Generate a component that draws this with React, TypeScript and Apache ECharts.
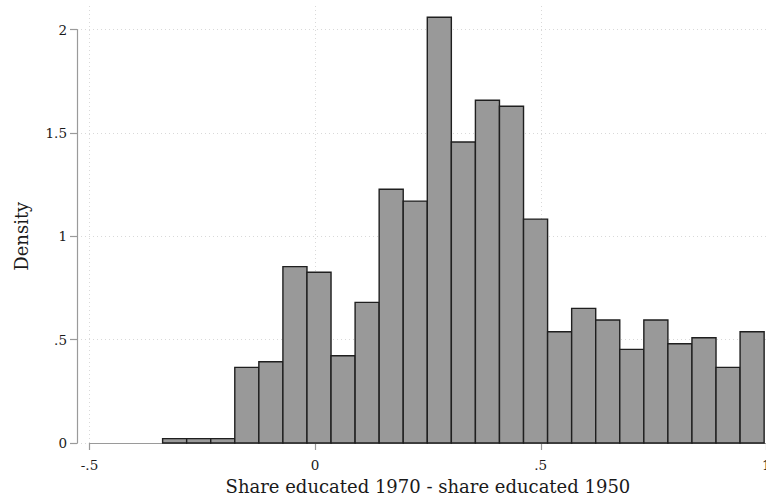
import React, { useEffect, useRef } from "react";
import * as echarts from "echarts";

// Histogram bins (Stata-style): start of first bin, bin width, densities
const binStart = -0.338;
const binWidth = 0.05332;
const densities = [
  0.021, 0.021, 0.021, 0.366, 0.393, 0.853, 0.826, 0.422, 0.68, 1.227,
  1.17, 2.059, 1.456, 1.658, 1.629, 1.083, 0.538, 0.651, 0.595, 0.453,
  0.595, 0.48, 0.509, 0.366, 0.538,
];
const xTicks = [-0.5, 0, 0.5, 1];
const yTicks = [0, 0.5, 1, 1.5, 2];
const xTitle = "Share educated 1970 - share educated 1950";
const yTitle = "Density";

const FONT = "DejaVu Serif";

function fmt(v: number): string {
  if (v === 0) return "0";
  const s = String(v);
  return s.replace(/^0\./, ".").replace(/^-0\./, "-.");
}

export default function App() {
  const ref = useRef<HTMLDivElement>(null);
  useEffect(() => {
    if (!ref.current) return;
    const chart = echarts.init(ref.current, null, { renderer: "svg" });
    const bins = densities.map((d, i) => [
      binStart + i * binWidth,
      binStart + (i + 1) * binWidth,
      d,
    ]);
    // layout
    const axisY = 443; // pixel of y=0
    const plotTopPx = 6;
    const yTopPx = 29.5;
    const pxPerUnit = (axisY - yTopPx) / 2;
    const yMaxB = (axisY - plotTopPx) / pxPerUnit;
    const bottom = 502 - axisY;

    chart.setOption({
      animation: false,
      backgroundColor: "#ffffff",
      textStyle: { fontFamily: FONT },
      grid: [
        { left: 77, right: -0.4, top: yTopPx, bottom, outerBoundsMode: "none", containLabel: false },
        { left: 89.5, right: -0.4, top: plotTopPx, bottom, outerBoundsMode: "none", containLabel: false },
      ],
      xAxis: [
        {
          gridIndex: 0,
          type: "value",
          min: xTicks[0],
          max: xTicks[xTicks.length - 1],
          show: false,
        },
        {
          gridIndex: 1,
          type: "value",
          min: xTicks[0],
          max: xTicks[xTicks.length - 1],
          interval: 0.5,
          name: xTitle,
          nameLocation: "middle",
          nameGap: 34,
          nameTextStyle: { fontFamily: FONT, fontSize: 18, color: "#1a1a1a" },
          axisLine: { show: true, onZero: false, lineStyle: { color: "#9a9a9a", width: 1.2 } },
          axisTick: { show: true, length: 7, lineStyle: { color: "#9a9a9a", width: 1.2 } },
          axisLabel: {
            fontFamily: FONT,
            fontSize: 13.5,
            color: "#1a1a1a",
            margin: 15,
            formatter: (v: number) => fmt(v),
            showMinLabel: true,
            showMaxLabel: true,
          },
          splitLine: {
            show: true,
            lineStyle: { color: "#d9d9d9", type: [1, 3], width: 1 },
          },
        },
      ],
      yAxis: [
        {
          gridIndex: 0,
          type: "value",
          min: yTicks[0],
          max: yTicks[yTicks.length - 1],
          interval: 0.5,
          name: yTitle,
          nameLocation: "middle",
          nameGap: 47,
          nameTextStyle: { fontFamily: FONT, fontSize: 18, color: "#1a1a1a" },
          axisLine: { show: true, onZero: false, lineStyle: { color: "#9a9a9a", width: 1.2 } },
          axisTick: { show: true, length: 7, lineStyle: { color: "#9a9a9a", width: 1.2 } },
          axisLabel: {
            fontFamily: FONT,
            fontSize: 13.5,
            color: "#1a1a1a",
            margin: 10,
            formatter: (v: number) => fmt(v),
          },
          splitLine: {
            show: true,
            lineStyle: { color: "#d9d9d9", type: [1, 3], width: 1 },
          },
        },
        {
          gridIndex: 1,
          type: "value",
          min: 0,
          max: yMaxB,
          show: false,
          splitLine: { show: false },
        },
      ],
      series: [
        {
          type: "custom",
          xAxisIndex: 1,
          yAxisIndex: 1,
          data: bins,
          renderItem: (params: any, api: any) => {
            const x0 = api.value(0);
            const x1 = api.value(1);
            const d = api.value(2);
            const p0 = api.coord([x0, d]);
            const p1 = api.coord([x1, 0]);
            return {
              type: "rect",
              shape: { x: p0[0], y: p0[1], width: p1[0] - p0[0], height: p1[1] - p0[1] },
              style: { fill: "#999999", stroke: "#1f1f1f", lineWidth: 1.4 },
            };
          },
        },
      ],
    });
    return () => chart.dispose();
  }, []);
  return (
    <div
      ref={ref}
      style={{ position: "fixed", left: 0, top: 0, width: 766, height: 502 }}
    />
  );
}
